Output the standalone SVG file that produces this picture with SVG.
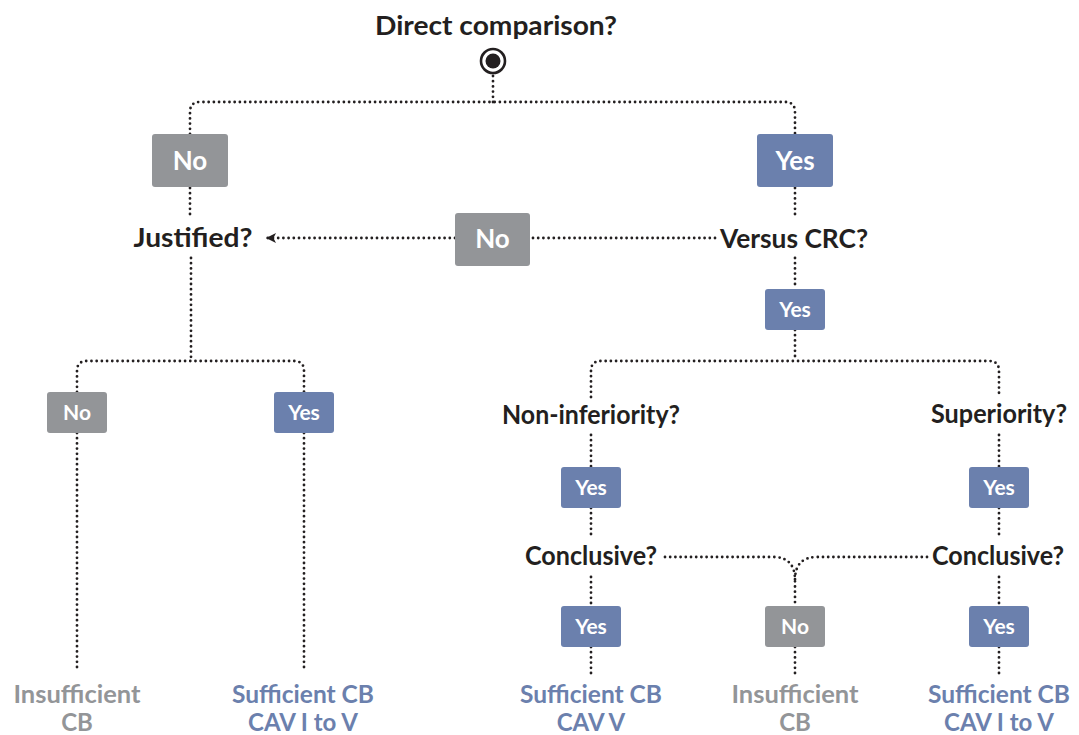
<svg xmlns="http://www.w3.org/2000/svg" width="1079" height="735" viewBox="0 0 1079 735">
<defs>
<style>
.dot{fill:none;stroke:#231f20;stroke-width:2.8;stroke-dasharray:0 5.2;stroke-linecap:round}
.q{font-family:Lato,"Open Sans",sans-serif;font-weight:700;font-size:26px;fill:#231f20;text-anchor:middle}
.bt{font-family:Lato,"Open Sans",sans-serif;font-weight:700;fill:#fff;text-anchor:middle}
.big{font-size:26px}
.sm{font-size:21px}
.gray{fill:#939598}
.blue{fill:#6b80ad}
.res{font-family:Lato,"Open Sans",sans-serif;font-weight:700;font-size:24px;text-anchor:middle}
</style>
<marker id="ah" viewBox="0 0 10 10" refX="10" refY="5" markerWidth="11" markerHeight="10" markerUnits="userSpaceOnUse" orient="auto">
<path d="M0,0 L10,5 L0,10 L2.5,5 z" fill="#231f20"/>
</marker>
</defs>
<rect width="1079" height="735" fill="#fff"/>

<g id="connectors">
<path class="dot" d="M493 76 V102"/>
<path class="dot" d="M190 134 V112 Q190 102 200 102 H785 Q795 102 795 112 V134"/>
<path class="dot" d="M190 188 V219"/>
<path class="dot" d="M191 258 V361"/>
<path class="dot" d="M77 392 V371 Q77 361 87 361 H294 Q304 361 304 371 V392"/>
<path class="dot" d="M77 433 V670"/>
<path class="dot" d="M304 433 V670"/>
<path class="dot" d="M795 188 V219"/>
<path class="dot" d="M715 238 H531"/>
<path class="dot" d="M455 238 H266" marker-end="url(#ah)"/>
<path class="dot" d="M795 258 V289"/>
<path class="dot" d="M795 330 V361"/>
<path class="dot" d="M591 397 V371 Q591 361 601 361 H989 Q999 361 999 371 V397"/>
<path class="dot" d="M591 435 V467"/>
<path class="dot" d="M999 435 V467"/>
<path class="dot" d="M591 508 V539"/>
<path class="dot" d="M999 508 V539"/>
<path class="dot" d="M591 577 V606"/>
<path class="dot" d="M999 577 V606"/>
<path class="dot" d="M591 647 V676"/>
<path class="dot" d="M999 647 V676"/>
<path class="dot" d="M795 647 V676"/>
<path class="dot" d="M665 557 H773 Q795 557 795 580 V606"/>
<path class="dot" d="M927 557 H817 Q795 557 795 580"/>
</g>

<g id="start">
<text class="q" x="496" y="35" font-size="27" textLength="242" lengthAdjust="spacingAndGlyphs">Direct comparison?</text>
<circle cx="493" cy="61" r="12" fill="#fff" stroke="#231f20" stroke-width="2.6"/>
<circle cx="493" cy="61" r="7.5" fill="#231f20"/>
</g>

<g id="no-direct">
<rect x="152" y="134" width="76" height="53" rx="3" class="gray"/>
<text class="bt big" x="190" y="170">No</text>
</g>
<g id="yes-direct">
<rect x="757" y="134" width="76" height="53" rx="3" class="blue"/>
<text class="bt big" x="795" y="170">Yes</text>
</g>

<g id="justified">
<text class="q" x="193" y="247" textLength="119" lengthAdjust="spacingAndGlyphs">Justified?</text>
</g>
<g id="versus-crc">
<text class="q" x="794" y="248" textLength="148" lengthAdjust="spacingAndGlyphs">Versus CRC?</text>
</g>
<g id="no-crc">
<rect x="455" y="213" width="75" height="53" rx="3" class="gray"/>
<text class="bt big" x="492.5" y="248">No</text>
</g>
<g id="yes-crc">
<rect x="765" y="289" width="60" height="41" rx="3" class="blue"/>
<text class="bt sm" x="795" y="317">Yes</text>
</g>

<g id="no-justified">
<rect x="47" y="392" width="60" height="41" rx="3" class="gray"/>
<text class="bt sm" x="77" y="420">No</text>
</g>
<g id="yes-justified">
<rect x="274" y="392" width="60" height="41" rx="3" class="blue"/>
<text class="bt sm" x="304" y="420">Yes</text>
</g>

<g id="non-inferiority">
<text class="q" x="591" y="424" textLength="178" lengthAdjust="spacingAndGlyphs">Non-inferiority?</text>
</g>
<g id="superiority">
<text class="q" x="999" y="423" textLength="136" lengthAdjust="spacingAndGlyphs">Superiority?</text>
</g>
<g id="yes-ni">
<rect x="561" y="467" width="60" height="41" rx="3" class="blue"/>
<text class="bt sm" x="591" y="495">Yes</text>
</g>
<g id="yes-sup">
<rect x="969" y="467" width="60" height="41" rx="3" class="blue"/>
<text class="bt sm" x="999" y="495">Yes</text>
</g>
<g id="conclusive-ni">
<text class="q" x="591" y="565" textLength="132" lengthAdjust="spacingAndGlyphs">Conclusive?</text>
</g>
<g id="conclusive-sup">
<text class="q" x="998" y="565" textLength="132" lengthAdjust="spacingAndGlyphs">Conclusive?</text>
</g>
<g id="yes-conc-ni">
<rect x="561" y="606" width="60" height="41" rx="3" class="blue"/>
<text class="bt sm" x="591" y="634">Yes</text>
</g>
<g id="no-conc">
<rect x="765" y="606" width="60" height="41" rx="3" class="gray"/>
<text class="bt sm" x="795" y="634">No</text>
</g>
<g id="yes-conc-sup">
<rect x="969" y="606" width="60" height="41" rx="3" class="blue"/>
<text class="bt sm" x="999" y="634">Yes</text>
</g>

<g id="result-insufficient-left">
<text class="res gray" x="77" y="703" textLength="127" lengthAdjust="spacingAndGlyphs">Insufficient</text>
<text class="res gray" x="77" y="731">CB</text>
</g>
<g id="result-sufficient-left">
<text class="res blue" x="303" y="703" textLength="142" lengthAdjust="spacingAndGlyphs">Sufficient CB</text>
<text class="res blue" x="303" y="731">CAV I to V</text>
</g>
<g id="result-sufficient-ni">
<text class="res blue" x="591" y="703" textLength="142" lengthAdjust="spacingAndGlyphs">Sufficient CB</text>
<text class="res blue" x="591" y="731">CAV V</text>
</g>
<g id="result-insufficient-mid">
<text class="res gray" x="795" y="703" textLength="127" lengthAdjust="spacingAndGlyphs">Insufficient</text>
<text class="res gray" x="795" y="731">CB</text>
</g>
<g id="result-sufficient-sup">
<text class="res blue" x="999" y="703" textLength="142" lengthAdjust="spacingAndGlyphs">Sufficient CB</text>
<text class="res blue" x="999" y="731">CAV I to V</text>
</g>
</svg>
